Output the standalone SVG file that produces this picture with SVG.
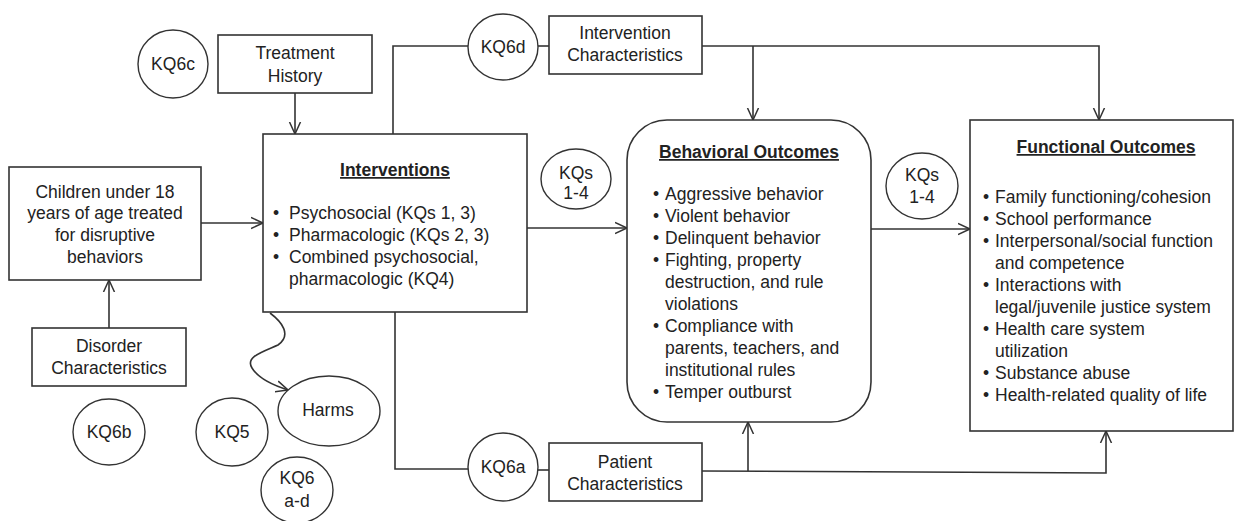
<svg xmlns="http://www.w3.org/2000/svg" width="1235" height="521" viewBox="0 0 1235 521">
<defs>
<marker id="arr" markerUnits="userSpaceOnUse" markerWidth="14" markerHeight="14" refX="12" refY="7" orient="auto">
<path d="M0,1.5 L12,7 L0,12.5" fill="none" stroke="#333" stroke-width="1.5"/>
</marker>
<style>
.box{fill:#fff;stroke:#333;stroke-width:1.6}
.circ{fill:#fff;stroke:#333;stroke-width:1.4}
.ln{fill:none;stroke:#333;stroke-width:1.6}
text{font-family:"Liberation Sans",Arial,sans-serif;font-size:17.5px;fill:#222}
.c{text-anchor:middle}
.t{font-weight:bold;text-decoration:underline;text-anchor:middle}
</style>
</defs>
<rect width="1235" height="521" fill="#fff"/>
<g id="connectors">
<line class="ln" x1="295" y1="93" x2="295" y2="134" marker-end="url(#arr)"/>
<line class="ln" x1="201" y1="223" x2="263" y2="223" marker-end="url(#arr)"/>
<line class="ln" x1="109" y1="328" x2="109" y2="280" marker-end="url(#arr)"/>
<polyline class="ln" points="393,134 393,46 468,46"/>
<line class="ln" x1="538" y1="46" x2="549" y2="46"/>
<polyline class="ln" points="702,46 1099,46 1099,120" marker-end="url(#arr)"/>
<line class="ln" x1="753" y1="46" x2="753" y2="120" marker-end="url(#arr)"/>
<line class="ln" x1="527" y1="228" x2="627" y2="228" marker-end="url(#arr)"/>
<line class="ln" x1="871" y1="229" x2="970" y2="229" marker-end="url(#arr)"/>
<polyline class="ln" points="395,312 395,469 468,469"/>
<line class="ln" x1="538" y1="470" x2="549" y2="470"/>
<polyline class="ln" points="702,471 1106,473 1106,431" marker-end="url(#arr)"/>
<line class="ln" x1="748" y1="471" x2="748" y2="422" marker-end="url(#arr)"/>
<path class="ln" d="M270,313 C282,322 292,335 278,345 C262,352 245,357 252,368 C258,378 272,385 288,390" marker-end="url(#arr)"/>
</g>
<g id="kq6c"><ellipse class="circ" cx="173" cy="64" rx="35" ry="34"/><text class="c" x="173" y="70">KQ6c</text></g>
<g id="treatment-history"><rect class="box" x="218" y="35" width="154" height="58"/><text class="c" x="295" y="59">Treatment</text><text class="c" x="295" y="82">History</text></g>
<g id="kq6d"><ellipse class="circ" cx="503" cy="47" rx="35" ry="33"/><text class="c" x="503" y="53">KQ6d</text></g>
<g id="intervention-characteristics"><rect class="box" x="549" y="16" width="153" height="58"/><text class="c" x="625" y="39">Intervention</text><text class="c" x="625" y="61">Characteristics</text></g>
<g id="children"><rect class="box" x="9" y="167" width="192" height="113"/>
<text class="c" x="105" y="198">Children under 18</text><text class="c" x="105" y="219">years of age treated</text><text class="c" x="105" y="241">for disruptive</text><text class="c" x="105" y="263">behaviors</text></g>
<g id="interventions"><rect class="box" x="263" y="134" width="264" height="178"/>
<text class="t" x="395" y="176">Interventions</text>
<text x="273" y="219">•</text><text x="289" y="219">Psychosocial (KQs 1, 3)</text>
<text x="273" y="241">•</text><text x="289" y="241">Pharmacologic (KQs 2, 3)</text>
<text x="273" y="263">•</text><text x="289" y="263">Combined psychosocial,</text>
<text x="289" y="285">pharmacologic (KQ4)</text></g>
<g id="kqs14a"><ellipse class="circ" cx="576" cy="179" rx="35" ry="30"/><text class="c" x="576" y="179">KQs</text><text class="c" x="576" y="199">1-4</text></g>
<g id="behavioral-outcomes"><rect class="box" x="627" y="120" width="244" height="302" rx="40" ry="40"/>
<text class="t" x="749" y="158">Behavioral Outcomes</text>
<text x="653" y="200">•</text><text x="665" y="200">Aggressive behavior</text>
<text x="653" y="222">•</text><text x="665" y="222">Violent behavior</text>
<text x="653" y="244">•</text><text x="665" y="244">Delinquent behavior</text>
<text x="653" y="266">•</text><text x="665" y="266">Fighting, property</text>
<text x="665" y="288">destruction, and rule</text>
<text x="665" y="310">violations</text>
<text x="653" y="332">•</text><text x="665" y="332">Compliance with</text>
<text x="665" y="354">parents, teachers, and</text>
<text x="665" y="376">institutional rules</text>
<text x="653" y="398">•</text><text x="665" y="398">Temper outburst</text></g>
<g id="kqs14b"><ellipse class="circ" cx="922" cy="186" rx="36" ry="33"/><text class="c" x="922" y="181">KQs</text><text class="c" x="922" y="203">1-4</text></g>
<g id="functional-outcomes"><rect class="box" x="970" y="120" width="263" height="311"/>
<text class="t" x="1106" y="153">Functional Outcomes</text>
<text x="983" y="203">•</text><text x="995" y="203">Family functioning/cohesion</text>
<text x="983" y="225">•</text><text x="995" y="225">School performance</text>
<text x="983" y="247">•</text><text x="995" y="247">Interpersonal/social function</text>
<text x="995" y="269">and competence</text>
<text x="983" y="291">•</text><text x="995" y="291">Interactions with</text>
<text x="995" y="313">legal/juvenile justice system</text>
<text x="983" y="335">•</text><text x="995" y="335">Health care system</text>
<text x="995" y="357">utilization</text>
<text x="983" y="379">•</text><text x="995" y="379">Substance abuse</text>
<text x="983" y="401">•</text><text x="995" y="401">Health-related quality of life</text></g>
<g id="disorder-characteristics"><rect class="box" x="32" y="328" width="154" height="58"/><text class="c" x="109" y="352">Disorder</text><text class="c" x="109" y="374">Characteristics</text></g>
<g id="kq6b"><ellipse class="circ" cx="109" cy="432" rx="36" ry="33"/><text class="c" x="109" y="438">KQ6b</text></g>
<g id="kq5"><ellipse class="circ" cx="232" cy="432" rx="36" ry="34"/><text class="c" x="232" y="438">KQ5</text></g>
<g id="harms"><ellipse class="circ" cx="329" cy="411" rx="51" ry="35"/><text class="c" x="328" y="416">Harms</text></g>
<g id="kq6ad"><ellipse class="circ" cx="297" cy="490" rx="36" ry="33"/><text class="c" x="297" y="484">KQ6</text><text class="c" x="297" y="507">a-d</text></g>
<g id="kq6a"><ellipse class="circ" cx="503" cy="467" rx="35" ry="34"/><text class="c" x="503" y="473">KQ6a</text></g>
<g id="patient-characteristics"><rect class="box" x="549" y="443" width="153" height="58"/><text class="c" x="625" y="468">Patient</text><text class="c" x="625" y="490">Characteristics</text></g>
</svg>
